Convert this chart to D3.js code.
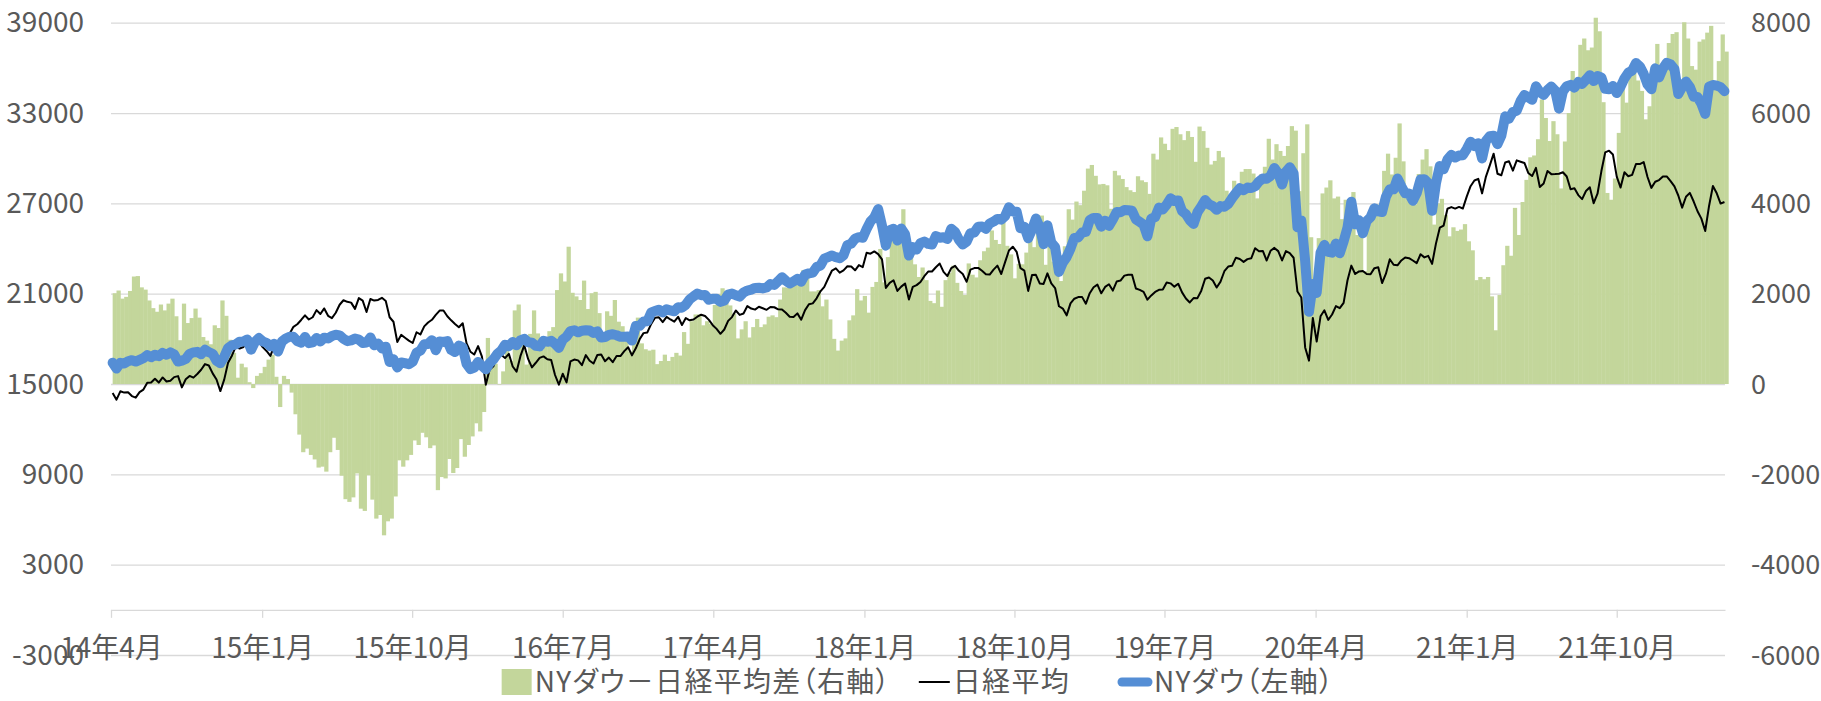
<!DOCTYPE html>
<html>
<head>
<meta charset="utf-8">
<script src="https://cdn.jsdelivr.net/npm/d3@7"></script>
<style>
  body { margin: 0; background: #fff; }
  text { font-family: "Noto Sans CJK JP", "Noto Sans", sans-serif; fill: #595959; }
  .legend text { font-feature-settings: "palt"; letter-spacing: 1.3px; }
</style>
</head>
<body>
<svg id="chart" width="1821" height="701"></svg>
<script>
// weekly closes (Fridays), first week = 2014-04-04
var firstFriday = new Date(2014, 3, 4);

// NYダウ (left axis)
var dow = [
  16412,16027,16408,16361, 16513,16583,16491,16606,16717, 16924,16776,16947,16851, 17068,16944,17100,16961,
  16493,16553,16663,17001,17098, 17138,16988,17280,17113, 17009,16544,16380,16805,17391, 17573,17634,17810,17828,
  17958,17280,17804,18053,
  // 2015
  17833,17737,17511,17672,17165, 17824,18019,18140,18133, 17856,17749,18128,17712, 17763,18057,17826,18080,
  18024,18191,18272,18232,18011, 17849,17898,18015,17947, 17730,17760,18086,17568,17690, 17373,17477,16460,16643,
  16102,16433,16384,16315, 16472,17084,17215,17646,17664, 17910,17245,17824,17798, 17847,17265,17128,17552,
  // 2016
  17425,16346,15988,16093,16466, 16204,15973,16392,16639, 17006,17213,17602,17515, 17792,17577,17897,18003,17773,
  17740,17535,17500,17873, 17807,17865,17675,17400, 17949,18146,18516,18570,18432, 18543,18576,18552,18395,
  18492,18085,18124,18261,18308, 18240,18138,18145,18161, 17888,18847,18868,19152, 19170,19757,19843,19934,19763,
  // 2017
  19964,19885,19827,20094, 20071,20269,20624,20822, 21005,20902,20914,20596,20663, 20656,20453,20547,20940,
  21006,20896,20804,21080, 21206,21271,21384,21394,21349, 21414,21637,21580,21830, 22092,21858,21674,21813,
  21987,21797,22268,22349,22405, 22773,22871,23328,23434, 23539,23422,23358,23557, 24231,24329,24651,24754,24719,
  // 2018
  25296,25803,26072,26617, 25521,24191,25219,25310, 24538,25336,24947,23533,24103, 23933,24360,24463,24311,
  24263,24831,24715,24753, 24635,25317,25090,24580,24271, 24456,25019,25058,25451, 25463,25313,25669,25790,25965,
  25916,26155,26743,26458, 26447,25340,25444,24688, 25270,25989,25413,24285,25538, 24389,24100,22445,23062,
  // 2019
  23433,23996,24706,24737, 25064,25106,25883,26031, 26026,25450,25849,25502,25929, 26425,26412,26559,26543,
  26505,25942,25764,25585,24815, 25984,26089,26719,26600, 26922,27332,27154,27192, 26485,26287,25886,25628,26403,
  26797,27220,26935,26820, 26573,26816,26770,26958, 27347,27681,28005,27876,28051, 28015,28135,28455,28645,
  // 2020
  28634,28823,29348,28990,28256, 29102,29398,28992,25409, 25864,23185,19800,21637, 21053,23719,24242,23775,
  23724,24331,23685,24465,25383, 27111,25605,25871,25016, 25827,26075,26672,26470,26428, 27433,27931,27930,28654,
  28133,27666,27657,27173, 27683,28587,28606,28336,26502, 28323,29480,29263,29910, 30218,30046,30179,30200,
  // 2021
  30606,31098,30814,30997,29983, 31148,31458,31494,30932, 31496,32779,32628,33072, 33153,33801,34200,34043,33875,
  34778,34382,34208,34529, 34756,34480,33290,34433, 34786,34870,34687,35061,34935, 35209,35515,35120,35455,
  35369,34608,34584,34798, 34326,34746,35295,35677,35820, 36328,36100,35602,34899, 34580,35971,35365,35950,36338,
  // 2022
  36231,35912,34265,34725, 35090,34738,34079,34058, 33615,32944,34755,34862, 34818,34721,34451
];

// 日経平均 (left axis)
var nikkei = [
  14400,13960,14516,14430, 14458,14200,14097,14462,14632, 15077,15097,15349,15095, 15437,15165,15215,15457,
  15523,14778,15318,15539,15425, 15668,15948,16321,16229, 15708,15300,14532,15291,16414, 16880,17490,17357,17460,
  17920,17371,17621,17818,
  // 2015
  17450,17197,16864,17511,17674, 17648,17913,18332,18798, 18971,19254,19560,19286, 19435,19908,19653,20020,
  19531,19379,19732,20264,20563, 20460,20407,19990,20706, 20539,19780,20650,20544,20585, 20724,20519,19435,19136,
  17792,18264,18070,17880, 17725,18438,18291,18826,19083, 19265,19597,19880,19883, 19504,19230,18986,18769,
  // 2016
  19034,17697,17147,16958,17518, 16819,14952,15967,16188, 17014,16938,16724,17002, 16164,15821,16848,17572,16666,
  16106,16412,16736,16834, 16642,16601,15599,14952, 15682,15106,16497,16627,16569, 16254,16919,16545,16360,
  16925,16965,16519,16754,16450, 16860,16856,17184,17446, 16905,17374,17967,18381, 18426,18996,19401,19427,19114,
  // 2017
  19454,19287,19137,19467, 18918,19378,19235,19283, 19469,19604,19521,19262,18909, 18664,18335,18620,19196,
  19445,19883,19590,19686, 20177,20013,19943,20132,20033, 19929,20118,20099,19959, 19952,19729,19470,19452,
  19691,19274,19909,20296,20356, 20690,21155,21457,22008, 22539,22681,22397,22550, 22819,22811,22553,22902,22765,
  // 2018
  23715,23654,23808,23632, 23275,21383,21721,21892, 21182,21470,21677,20618,21454, 21568,21779,22162,22468,
  22473,22758,23002,22451, 22171,22694,22852,22517,22305, 21788,22597,22698,22712, 22525,22298,22270,22601,22865,
  22307,23094,23870,24120, 23783,22694,22532,21184, 22243,22250,21680,21646,22351, 21679,21374,20166,20015,
  // 2019
  19561,20360,20666,20773, 20788,20333,21033,21426, 21602,21025,21450,21627,21206, 21807,21871,22200,22258,
  22258,21344,21250,21117,20601, 20884,21116,21258,21276, 21746,21686,21467,21658, 21087,20684,20418,20710,20704,
  21200,21988,22079,21878, 21410,21798,22492,22800, 22851,23391,23303,23113,23294, 23354,24023,23816,23837,
  // 2020
  23204,23850,24041,23827,23205, 23828,23688,23387,21143, 20750,17431,16553,19389, 17820,19499,19897,19262,
  19619,20179,20037,20388,21878, 22863,22305,22478,22512, 22306,22290,22696,22751,21710, 22329,23289,22920,22882,
  23205,23406,23360,23205, 23030,23620,23411,23516,22977, 24325,25385,25527,26644, 26751,26652,26763,26656,
  // 2021
  27444,28139,28519,28631,27663, 28779,29520,30300,28966, 28864,29717,29792,29176, 29854,29768,29683,29020,28813,
  29357,28084,28318,29149, 28941,28948,28964,29066, 28783,27940,28003,27548,27283, 27820,28069,27013,27641,
  29128,30382,30500,30249, 28771,28049,29069,28805,28893, 29612,29610,29746,28752, 28030,28437,28546,28782,28792,
  // 2022
  28479,28124,27522,26717, 27440,27696,27122,26476, 25985,25163,26827,28150, 27666,26985,27093
];

// NYダウ－日経平均差 (right axis)
var spread = [
  2010,2070,1890,1930, 2060,2380,2390,2140,2090, 1850,1680,1600,1760, 1630,1780,1890,1500,
  970,1780,1350,1460,1670, 1470,1040,960,880, 1300,1240,1850,1510,980, 690,140,450,370,
  40,-90,180,240,
  // 2015
  380,540,650,160,-510, 180,110,-190,-670, -1120,-1510,-1430,-1570, -1670,-1850,-1830,-1940,
  -1510,-1190,-1460,-2030,-2550, -2610,-2510,-1980,-2760, -2810,-2020,-2560,-2980,-2900, -3350,-3040,-2980,-2490,
  -1690,-1830,-1690,-1570, -1250,-1350,-1080,-1180,-1420, -1360,-2350,-2060,-2090, -1660,-1970,-1860,-1220,
  // 2016
  -1610,-1350,-1160,-870,-1050, -620,1020,430,450, -10,280,880,510, 1630,1760,1050,430,1110,
  1630,1120,760,1040, 1170,1260,2080,2450, 2270,3040,2020,1940,1860, 2290,1660,2010,2040,
  1570,1120,1610,1510,1860, 1380,1280,960,720, 980,1470,900,770, 740,760,440,510,650,
  // 2017
  510,600,690,630, 1150,890,1390,1540, 1540,1300,1390,1330,1750, 1990,2120,1930,1740,
  1560,1010,1210,1390, 1030,1260,1440,1260,1320, 1490,1520,1480,1870, 2140,2130,2200,2360,
  2300,2520,2360,2050,2050, 2080,1720,1870,1430, 1000,740,960,1010, 1410,1520,2100,1850,1950,
  // 2018
  1580,2150,2260,2990, 2250,2810,3500,3420, 3360,3870,3270,2920,2650, 2370,2580,2300,1840,
  1790,2070,1710,2300, 2460,2620,2240,2060,1970, 2670,2420,2360,2740, 2940,3020,3400,3190,3100,
  3610,3060,2870,2340, 2660,2650,2910,3500, 3030,3740,3730,2640,3190, 2710,2730,2280,3050,
  // 2019
  3870,3640,4040,3960, 4280,4770,4850,4610, 4420,4430,4400,3880,4720, 4620,4540,4360,4290,
  4250,4600,4510,4470,4210, 5100,4970,5460,5320, 5180,5650,5690,5530, 5400,5600,5470,4920,5700,
  5600,5230,4860,4940, 5160,5020,4280,4160, 4500,4290,4700,4760,4760, 4660,4110,4640,4810,
  // 2020
  5430,4970,5310,5160,5050, 5270,5710,5610,4270, 5110,5750,3250,2250, 3230,4220,4350,4510,
  4110,4150,3650,4080,3510, 4250,3300,3390,2500, 3520,3790,3980,3720,4720, 5100,4640,5010,5770,
  4930,4260,4300,3970, 4650,4970,5200,4820,3530, 4000,4100,3740,3270, 3470,3390,3420,3540,
  // 2021
  3160,2960,2300,2370,2320, 2370,1940,1190,1970, 2630,3060,2840,3900, 3300,4030,4520,5020,5060,
  5420,6300,5890,5380, 5820,5530,4330,5370, 6000,6930,6680,7510,7650, 7390,7450,8110,7810,
  6240,4230,4080,4550, 5560,6700,6230,6870,6930, 6720,6490,5860,6150, 6550,7530,6820,7170,7550,
  // 2022
  7750,7790,6740,8010, 7650,7040,6960,7580, 7630,7780,7930,6710, 7150,7740,7360
];

var leftTicks  = [-3000, 3000, 9000, 15000, 21000, 27000, 33000, 39000];
var rightTicks = [-6000, -4000, -2000, 0, 2000, 4000, 6000, 8000];
var xTickMonths = ["2014-04","2015-01","2015-10","2016-07","2017-04","2018-01",
                   "2018-10","2019-07","2020-04","2021-01","2021-10"];

var legendLabels = ["NYダウ－日経平均差（右軸）", "日経平均", "NYダウ（左軸）"];

// layout
var plotLeft = 111, plotRight = 1725, plotTop = 22.7, plotBottom = 655;
var svg = d3.select("#chart");

var dates = dow.map((d, i) => d3.timeDay.offset(firstFriday, 7 * i));

var x = d3.scaleTime()
          .domain([new Date(2014, 3, 1), new Date(2022, 3, 16)])
          .range([plotLeft, plotRight]);

var yL = d3.scaleLinear().domain([-3000, 39000]).range([plotBottom, plotTop]);
var yR = d3.scaleLinear().domain([-6000, 8000]).range([plotBottom, plotTop]);

// gridlines + left labels
var gLeft = svg.append("g")
    .attr("transform", "translate(" + plotLeft + ",0)")
    .call(d3.axisLeft(yL)
            .tickValues(leftTicks)
            .tickSize(-(plotRight - plotLeft))
            .tickPadding(27)
            .tickFormat(d => String(d)));
gLeft.select(".domain").remove();
gLeft.selectAll("line").attr("stroke", "#d9d9d9").attr("stroke-width", 1.3);
gLeft.selectAll("text").attr("font-size", 28).attr("dy", "0.33em").style("fill", "#595959");

// right labels
var gRight = svg.append("g")
    .attr("transform", "translate(" + plotRight + ",0)")
    .call(d3.axisRight(yR)
            .tickValues(rightTicks)
            .tickSize(0)
            .tickPadding(26)
            .tickFormat(d => String(d)));
gRight.select(".domain").remove();
gRight.selectAll("text").attr("font-size", 27).attr("dy", "0.34em").style("fill", "#595959");

// category axis crossing at 0 of left axis
var gX = svg.append("g")
    .attr("transform", "translate(0," + yL(0) + ")")
    .call(d3.axisBottom(x)
            .tickValues(xTickMonths.map(s => d3.timeParse("%Y-%m")(s)))
            .tickSize(8)
            .tickSizeOuter(0)
            .tickPadding(20)
            .tickFormat(d => (d.getFullYear() % 100) + "年" + (d.getMonth() + 1) + "月"));
gX.select(".domain").attr("stroke", "#d9d9d9").attr("stroke-width", 1.3);
gX.selectAll("line").attr("stroke", "#d9d9d9").attr("stroke-width", 1.3);
gX.selectAll("text").attr("font-size", 28).style("fill", "#595959");

// spread bars
var barW = x(dates[1]) - x(dates[0]);
svg.append("g")
  .selectAll("rect")
  .data(spread)
  .enter()
  .append("rect")
    .attr("x", (d, i) => x(dates[i]))
    .attr("width", barW + 0.4)
    .attr("y", d => Math.min(yR(d), yR(0)))
    .attr("height", d => Math.abs(yR(d) - yR(0)))
    .attr("fill", "#c3d69b");

// lines
var line = d3.line()
             .x((d, i) => x(dates[i]))
             .y(d => yL(d));

svg.append("path")
    .datum(nikkei)
    .attr("d", line)
    .attr("fill", "none")
    .attr("stroke", "#000")
    .attr("stroke-width", 2)
    .attr("stroke-linejoin", "round");

svg.append("path")
    .datum(dow)
    .attr("d", line)
    .attr("fill", "none")
    .attr("stroke", "#558ed5")
    .attr("stroke-width", 10)
    .attr("stroke-linejoin", "round")
    .attr("stroke-linecap", "round");

// legend
var legY = 682, legBase = 692;
var symW = [30, 31, 34], symGap = [3, 3, 2], itemGap = [28, 48, 0];
var legend = svg.append("g").attr("class", "legend");
var cx = 0;
legendLabels.forEach(function(label, i) {
  var g = legend.append("g").attr("transform", "translate(" + cx + ",0)");
  if (i === 0) {
    g.append("rect").attr("x", 0).attr("y", legY - 13).attr("width", symW[0]).attr("height", 26).attr("fill", "#c3d69b");
  } else if (i === 1) {
    g.append("line").attr("x1", 0).attr("x2", symW[1]).attr("y1", legY).attr("y2", legY)
      .attr("stroke", "#000").attr("stroke-width", 2);
  } else {
    g.append("line").attr("x1", 4).attr("x2", symW[2] - 4).attr("y1", legY).attr("y2", legY)
      .attr("stroke", "#558ed5").attr("stroke-width", 9).attr("stroke-linecap", "round");
  }
  var t = g.append("text")
      .attr("x", symW[i] + symGap[i])
      .attr("y", legBase)
      .attr("font-size", 28)
      .text(label);
  cx += symW[i] + symGap[i] + t.node().getComputedTextLength() + itemGap[i];
});
legend.attr("transform", "translate(" + ((plotLeft + plotRight) / 2 - cx / 2) + ",0)");
</script>
</body>
</html>
